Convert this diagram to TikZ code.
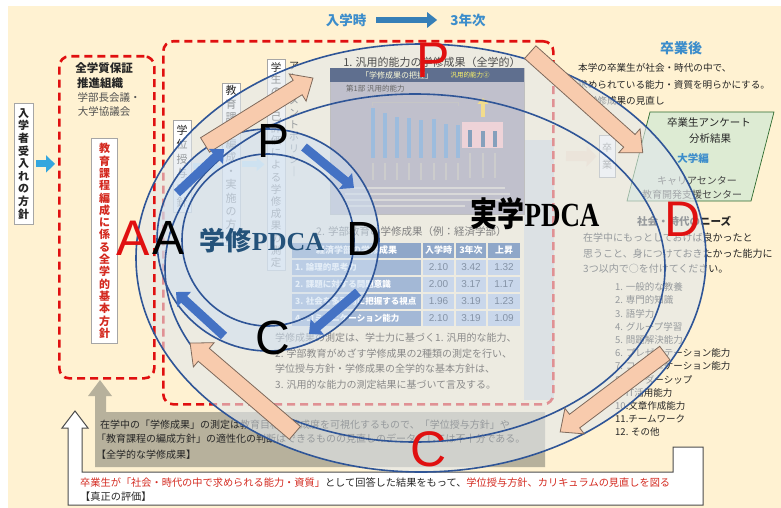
\documentclass[tikz,border=0pt]{standalone}
\usepackage{fontspec}
\usepackage{graphicx}
\setmainfont{Noto Sans CJK JP}
\newfontfamily\lsans{Liberation Sans}
\newfontfamily\lserif{Liberation Serif}
\usetikzlibrary{arrows.meta,shapes.geometric}
\definecolor{cream}{HTML}{FFF2D2}
\definecolor{dred}{HTML}{E01010}
\definecolor{tred}{HTML}{D42A20}
\definecolor{ringblue}{HTML}{2F5597}
\definecolor{arrblue}{HTML}{4472C4}
\definecolor{peach}{HTML}{F8CBAD}
\definecolor{peachline}{HTML}{7F6A5C}
\definecolor{skyblue}{HTML}{3C8DCB}
\definecolor{cyanarr}{HTML}{35A6DE}
\definecolor{taupe}{HTML}{B7B19C}
\definecolor{stripgray}{HTML}{D5D8D9}
\definecolor{jfill}{HTML}{E1E7EC}
\definecolor{gfill}{HTML}{CFE0F2}
\definecolor{pgreen}{HTML}{DDEBD3}
\definecolor{txt}{HTML}{262626}
\definecolor{headslate}{HTML}{5F6F8F}
\definecolor{tabhead}{HTML}{8FA7C9}
\definecolor{tablab}{HTML}{A3B8D6}
\definecolor{tabnum}{HTML}{C9D7EB}
\definecolor{numtxt}{HTML}{8593A6}
\definecolor{barc}{HTML}{9DBCDD}
\definecolor{gpdca}{HTML}{24527A}
\definecolor{softgray}{HTML}{8A8A8A}
\definecolor{pinkbox}{HTML}{EED3D8}
\definecolor{paleyellow}{HTML}{F2DC8C}
\newcommand{\myfs}[2]{\fontsize{#1}{#2}\selectfont}
% tan block arrow: mid x, mid y, angle, length
\newcommand{\tanarrow}[4]{%
  \begin{scope}[shift={(#1,#2)}, rotate=#3]
    \filldraw[fill=peach, draw=peachline, line width=0.8pt]
      ({-#4/2},-8.5) -- ({#4/2-18},-8.5) -- ({#4/2-18},-16) -- ({#4/2},0)
      -- ({#4/2-18},16) -- ({#4/2-18},8.5) -- ({-#4/2},8.5) -- cycle;
  \end{scope}}
\tikzset{
  redbox/.style={draw=dred, line width=2.6pt, dash pattern=on 8pt off 5pt, rounded corners=10pt, inner sep=0pt},
  vbox/.style={draw=gray!70, fill=white, line width=0.8pt, align=center, inner sep=1pt, anchor=north, text=txt},
  ring/.style={draw=ringblue, line width=1.6pt},
  bluearr/.style={draw=arrblue, line width=9pt, -{Triangle[length=11pt,width=20pt]}},
  bigred/.style={text=dred, font=\lsans\myfs{50}{50}, inner sep=0pt},
  bigblack/.style={text=black, font=\lsans\myfs{48}{48}, inner sep=0pt},
  lbl/.style={inner sep=0pt, anchor=west},
}
\begin{document}
\begin{tikzpicture}[x=1pt,y=-1pt]
\useasboundingbox (0,0) rectangle (781,508);
\fill[white] (0,0) rectangle (781,508);
\fill[cream] (8,6) rectangle (781,508);

% strip beside chart
\fill[stripgray] (524,140) rectangle (554,400);

% big dashed box
\node[redbox, minimum width=390pt, minimum height=363pt, anchor=north west] (box2) at (162,40) {};

% vertical boxes
\node[vbox, minimum width=18pt, minimum height=92pt, font=\myfs{11}{14.5}] (dp) at (182,120) {学\\位\\授\\与\\方\\針};
\node[vbox, minimum width=18pt, minimum height=162pt, font=\myfs{11}{13.4}] (cp) at (231,83) {教\\育\\課\\程\\編\\成\\・\\実\\施\\の\\方\\針};
\node[vbox, minimum width=18pt, minimum height=211pt, font=\myfs{10.5}{12.2}] (ap) at (276,59) {学\\生\\の\\自\\己\\評\\価\\に\\よ\\る\\学\\修\\成\\果\\の\\測\\定};
\node[align=center, inner sep=0pt, anchor=north, text=txt, font=\myfs{10}{11.8}] (asp) at (294,62) {ア\\セ\\ス\\メ\\ン\\ト\\ポ\\リ\\シ\\｜};
\draw[line width=6pt, draw=cyan!30, -{Triangle[length=8pt,width=13pt]}] ([xshift=2pt]dp.east) -- ([xshift=-2pt]dp.east -| cp.west);
\draw[line width=6pt, draw=cyan!30, -{Triangle[length=8pt,width=13pt]}] ([xshift=2pt]cp.east) -- ([xshift=-2pt]cp.east -| ap.west);

% grey band with up arrow
\fill[taupe] (95,467) -- (95,396) -- (88,396) -- (100,380) -- (112,396) -- (106,396) -- (106,412) -- (545,412) -- (545,467) -- cycle;
\node[lbl, font=\myfs{10}{10}, text=txt] (g1) at (100,425) {在学中の「学修成果」の測定は教育目標の達成度を可視化するもので、「学位授与方針」や};
\node[lbl, font=\myfs{10}{10}, text=txt] (g2) at (96,439) {「教育課程の編成方針」の適性化の判断はできるものの見直しのデータとしては不十分である。};
\node[lbl, font=\myfs{10}{10}, text=txt] (g3) at (96,455) {【全学的な学修成果】};

% right side
\node[font=\bfseries\myfs{14}{14}, text=skyblue, inner sep=0pt] (after) at (681,48) {卒業後};
\node[lbl, font=\myfs{9.6}{9.6}, text=txt] (r1) at (578,68) {本学の卒業生が社会・時代の中で、};
\node[lbl, font=\myfs{9.6}{9.6}, text=txt] (r2) at (578,85) {求められている能力・資質を明らかにする。};
\node[lbl, font=\myfs{9.6}{9.6}, text=txt] (r3) at (578,101) {→学修成果の見直し};
\filldraw[fill=pgreen, draw=gray!60!green!60!black, line width=0.7pt] (650,112) -- (774,112) -- (751,201) -- (627,201) -- cycle;
\node[font=\myfs{10.5}{10.5}, text=txt, inner sep=0pt] (s1) at (709,123) {卒業生アンケート};
\node[font=\myfs{10.5}{10.5}, text=txt, inner sep=0pt] (s2) at (710,139) {分析結果};
\node[font=\bfseries\myfs{10.5}{10.5}, text=skyblue, inner sep=0pt] (s3) at (693,158) {大学編};
\node[font=\myfs{10}{10}, text=txt!85, inner sep=0pt] (s4) at (697,181) {キャリアセンター};
\node[font=\myfs{10}{10}, text=txt!85, inner sep=0pt] (s5) at (692,195) {教育開発支援センター};
\node[vbox, minimum width=16pt, minimum height=42pt, font=\myfs{10}{17}, text=gray] (grad) at (607,135) {卒\\業};
\draw[line width=10pt, draw=peach!45!cream, -{Triangle[length=10pt,width=20pt]}] (566,156) -- ([xshift=-2pt]grad.west);
\node[font=\bfseries\myfs{10.5}{10.5}, text=txt, inner sep=0pt] (needs) at (684,221) {社会・時代のニーズ};
\node[lbl, font=\myfs{10}{10}, text=txt] (q1) at (583,238) {在学中にもっとしておけば良かったと};
\node[lbl, font=\myfs{10}{10}, text=txt] (q2) at (583,254) {思うこと、身につけておきたかった能力に};
\node[lbl, font=\myfs{10}{10}, text=txt] (q3) at (583,269) {3つ以内で○を付けてください。};
\foreach \i/\t in {1/{1. 一般的な教養},2/{2. 専門的知識},3/{3. 語学力},4/{4. グループ学習},5/{5. 問題解決能力},6/{6. プレゼンテーション能力},7/{7. コミュニケーション能力},8/{8. リーダーシップ},9/{9. IT活用能力},10/{10.文章作成能力},11/{11.チームワーク},12/{12. その他}}{
  \node[lbl, font=\myfs{9.5}{9.5}, text=txt] (li\i) at (615,{287+13.2*(\i-1)}) {\t};
}

% big ring fill
\fill[jfill, fill opacity=0.6] (421,258) ellipse [x radius=285pt, y radius=214pt];

% chart
\node[font=\myfs{11}{11}, text=black!70, inner sep=0pt] (ctitle) at (432,62) {1. 汎用的能力の学修成果（全学的）};
\filldraw[fill=white!92!blue!60!gray, draw=gray!50, line width=0.6pt] (330,68) rectangle (524,214);
\fill[headslate] (330,68) rectangle (524,82);
\node[font=\myfs{8}{8}, text=white!85!yellow, inner sep=0pt] (ch1) at (397,75.5) {「学修成果の把握」};
\node[font=\myfs{6.5}{6.5}, text=yellow!60, inner sep=0pt] (ch2) at (470,75.5) {汎用的能力②};
\node[lbl, font=\myfs{7.5}{7.5}, text=black!60] (ch3) at (346,89) {第1部\ 汎用的能力};
\draw[gray!45, line width=0.6pt] (372,106) -- (372,102) -- (458,102) -- (458,106);
\foreach \x/\t in {373/108,385/113,397/117,409/118,421/120,434/119,446/124,458/125}{
  \fill[barc] (\x-2.3,158) rectangle (\x+2.3,\t);
  \draw[gray!40, line width=1.2pt] (\x,163) -- (\x,180);
}
\fill[pinkbox] (462,122) rectangle (503,148);
\foreach \x/\t in {470/130,483/131,495/131}{
  \fill[barc!85!black] (\x-2.3,147) rectangle (\x+2.3,\t);
  \draw[gray!40, line width=1.2pt] (\x,153) -- (\x,178);
}
\draw[line width=4pt, draw=paleyellow, -{Triangle[length=6pt,width=11pt]}] (483,117) -- (483,98);
\foreach \y/\l in {188/160,194/165,200/165,206/120}{
  \draw[gray!30, line width=2pt] (345,\y) -- (345+\l,\y);
}

% table
\node[lbl, font=\myfs{10.5}{10.5}, text=black!50] (ttitle) at (316,232) {2. 学部教育の学修成果（例：経済学部）};
\fill[tabhead] (292,243) rectangle (421,258);
\fill[tabhead] (423,243) rectangle (454,258);
\fill[tabhead] (456,243) rectangle (486,258);
\fill[tabhead] (488,243) rectangle (520,258);
\node[font=\bfseries\myfs{9}{9}, text=white, inner sep=0pt] (th0) at (356.5,250.5) {経済学部の学修成果};
\node[font=\bfseries\myfs{9}{9}, text=white, inner sep=0pt] (th1) at (438.5,250.5) {入学時};
\node[font=\bfseries\myfs{9}{9}, text=white, inner sep=0pt] (th2) at (471,250.5) {3年次};
\node[font=\bfseries\myfs{9}{9}, text=white, inner sep=0pt] (th3) at (504,250.5) {上昇};
\foreach \k/\lab/\na/\nb/\nc in {1/{1. 論理的思考力}/2.10/3.42/1.32,2/{2. 課題に対する問題意識}/2.00/3.17/1.17,3/{3. 社会を多面的に把握する視点}/1.96/3.19/1.23,4/{4. コミュニケーション能力}/2.10/3.19/1.09}{
  \pgfmathsetmacro\yt{259.5+17*(\k-1)}
  \pgfmathsetmacro\yb{\yt+15.5}
  \pgfmathsetmacro\ym{\yt+7.75}
  \fill[tablab] (292,\yt) rectangle (421,\yb);
  \fill[tabnum] (423,\yt) rectangle (454,\yb);
  \fill[tabnum] (456,\yt) rectangle (486,\yb);
  \fill[tabnum] (488,\yt) rectangle (520,\yb);
  \node[lbl, font=\bfseries\myfs{8.5}{8.5}, text=white] (tl\k) at (295,\ym) {\lab};
  \node[font=\lsans\myfs{10}{10}, text=numtxt, inner sep=0pt] (ta\k) at (438.5,\ym) {\na};
  \node[font=\lsans\myfs{10}{10}, text=numtxt, inner sep=0pt] (tb\k) at (471,\ym) {\nb};
  \node[font=\lsans\myfs{10}{10}, text=numtxt, inner sep=0pt] (tc\k) at (504,\ym) {\nc};
}
\node[lbl, font=\myfs{10}{10}, text=softgray] (p1) at (275,338) {学修成果の測定は、学士力に基づく1. 汎用的な能力、};
\node[lbl, font=\myfs{10}{10}, text=softgray] (p2) at (275,354) {2. 学部教育がめざす学修成果の2種類の測定を行い、};
\node[lbl, font=\myfs{10}{10}, text=softgray] (p3) at (275,369) {学位授与方針・学修成果の全学的な基本方針は、};
\node[lbl, font=\myfs{10}{10}, text=softgray] (p4) at (275,385) {3. 汎用的な能力の測定結果に基づいて言及する。};

% small ring fill
\fill[gfill, fill opacity=0.55] (268,240) circle [radius=111pt];

% left box
\node[redbox, minimum width=95pt, minimum height=322pt, anchor=north west] (box1) at (58,55) {};
\node[font=\bfseries\myfs{11.5}{11.5}, text=txt, inner sep=0pt] (o1) at (104,68) {全学質保証};
\node[font=\bfseries\myfs{11.5}{11.5}, text=txt, inner sep=0pt] (o2) at (100,83) {推進組織};
\node[font=\myfs{10.5}{10.5}, text=txt!80, inner sep=0pt] (o3) at (109,98) {学部長会議・};
\node[font=\myfs{10.5}{10.5}, text=txt!80, inner sep=0pt] (o4) at (104,112) {大学協議会};
\node[vbox, minimum width=26pt, minimum height=205pt, text=tred, font=\bfseries\myfs{11}{12.3}] (rp) at (104.5,138) {教\\育\\課\\程\\編\\成\\に\\係\\る\\全\\学\\的\\基\\本\\方\\針};
\node[vbox, minimum width=19pt, minimum height=121pt, font=\bfseries\myfs{11}{12.6}] (admit) at (23.5,103) {入\\学\\者\\受\\入\\れ\\の\\方\\針};
\draw[line width=7pt, draw=cyanarr, -{Triangle[length=9pt,width=17pt]}] ([xshift=3pt]admit.east) -- ([xshift=-3pt]admit.east -| box1.west);

% white L arrow
\filldraw[fill=white, draw=gray!60!black, line width=1pt] (68,505) -- (68,428) -- (62,428) -- (75,411) -- (88,428) -- (82,428) -- (82,472) -- (673,472) -- (673,447) -- (703,447) -- (703,505) -- cycle;
\node[lbl, font=\myfs{10.2}{10.2}, text=txt] (w1) at (80,483) {\textcolor{tred}{卒業生が「社会・時代の中で求められる能力・資質」}として回答した結果をもって、\textcolor{tred}{学位授与方針、カリキュラムの見直しを図る}};
\node[lbl, font=\myfs{10.2}{10.2}, text=txt] (w2) at (80,497) {【真正の評価】};

% ring outlines
\draw[ring] (421,258) ellipse [x radius=285pt, y radius=214pt];
\draw[ring] (415,268) ellipse [x radius=250pt, y radius=174pt];
\draw[ring] (268,240) circle [radius=111pt];
\draw[ring] (268,240) circle [radius=86pt];

% tan arrows
\tanarrow{259}{111.5}{31.8}{127}
\tanarrow{586.5}{102.5}{-41.8}{151}
\tanarrow{612.5}{392.5}{217.0}{131}
\tanarrow{242.5}{388}{139.4}{138}

% blue arrows
\coordinate (b1s) at (177,193); \coordinate (b1e) at (224,149);
\coordinate (b2s) at (304,147); \coordinate (b2e) at (354,188);
\coordinate (b3s) at (358,292); \coordinate (b3e) at (309,334);
\coordinate (b4s) at (224,336); \coordinate (b4e) at (176,292);
\draw[bluearr] (b1s) -- (b1e);
\draw[bluearr] (b2s) -- (b2e);
\draw[bluearr] (b3s) -- (b3e);
\draw[bluearr] (b4s) -- (b4e);

% letters
\node[bigred] (rP) at (433,60) {P};
\node[bigred] (rD) at (683,219) {D};
\node[bigred] (rC) at (429,449) {C};
\node[bigred] (rA) at (133,238) {A};
\node[bigblack] (kP) at (274,141) {P};
\node[bigblack] (kD) at (364,239) {D};
\node[bigblack] (kC) at (273,338) {C};
\node[bigblack] (kA) at (169,238) {A};

\node[text=gpdca, inner sep=0pt, font=\bfseries\myfs{26}{26}] (gpd) at (262,241) {学修{\lserif PDCA}};
\node[text=black, inner sep=0pt, font=\bfseries\myfs{27}{27}] (jpd) at (535,214) {\scalebox{1}[1.25]{実学{\lserif PDCA}}};

% top timeline
\node[font=\bfseries\myfs{13.5}{13.5}, text=skyblue, inner sep=0pt] (tin) at (346,20) {入学時};
\node[font=\bfseries\myfs{13.5}{13.5}, text=skyblue, inner sep=0pt] (t3) at (468,20) {3年次};
\draw[line width=6pt, draw=skyblue!90!black, -{Triangle[length=10pt,width=15pt]}] ([xshift=10pt]tin.east) -- ([xshift=-13pt]t3.west);
\end{tikzpicture}
\end{document}
